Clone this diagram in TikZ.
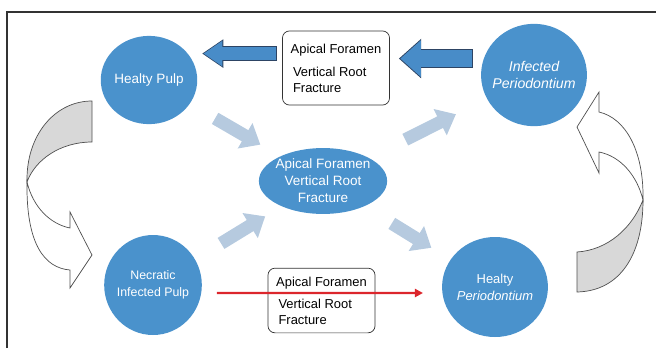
\documentclass[tikz,border=0pt]{standalone}
\usepackage{fontspec}
\setmainfont{Liberation Sans}
\usetikzlibrary{shapes.geometric,arrows.meta,calc}

\definecolor{nodeblue}{RGB}{74,146,204}
\definecolor{arrowblue}{RGB}{72,140,200}
\definecolor{arrowedge}{RGB}{45,68,100}
\definecolor{paleblue}{RGB}{182,202,223}
\definecolor{curvegray}{RGB}{216,216,216}
\definecolor{curveedge}{RGB}{80,80,80}
\definecolor{linkred}{RGB}{220,38,44}

\begin{document}
\begin{tikzpicture}[
    x=0.85pt, y=-0.85pt,
    stage/.style={ellipse, fill=nodeblue, text=white, inner xsep=-8pt, inner ysep=-3pt, align=center},
    notebox/.style={rectangle, rounded corners=6pt, draw=black!80, line width=0.6pt, fill=white,
        inner sep=0pt, align=left, minimum width=91pt, font=\fontsize{11}{13.6}\selectfont},
    palearrow/.style={draw=paleblue, line width=11pt, -{Triangle[width=24pt,length=15pt]}},
    linkarrow/.style={draw=linkred, line width=2pt, -{Triangle[width=7pt,length=7pt]}},
    bendarrow/.style={draw=curveedge, line width=0.6pt}
]
    \useasboundingbox (0,0) rectangle (656,348);
    \draw[black!80, line width=0.9pt] (7,348) -- (7,12) -- (656,12);

    % stages of the cycle
    \node[stage, minimum width=82pt, minimum height=75pt, font=\fontsize{11.5}{14.5}\selectfont] (hpulp) at (149,80) {Healty Pulp};
    \node[stage, minimum width=90pt, minimum height=87pt, font=\fontsize{12}{14.5}\selectfont\itshape] (iperio) at (534,75) {Infected\\Periodontium};
    \node[stage, minimum width=83pt, minimum height=85pt, font=\fontsize{10.5}{14.5}\selectfont] (necpulp) at (153,285) {Necratic\\Infected Pulp};
    \node[stage, minimum width=90pt, minimum height=85pt, font=\fontsize{11}{14.5}\selectfont] (hperio) at (495,287) {Healty\\\textit{Periodontium}};
    \node[stage, minimum width=109pt, minimum height=56pt, font=\fontsize{11.5}{14.5}\selectfont] (route) at (323,181) {Apical Foramen\\Vertical Root\\Fracture};

    % pathway notes
    \node[notebox, minimum height=63pt] (topnote) at (336,68) {Apical Foramen\\[6pt]\hspace{2pt}Vertical Root\\\hspace{2pt}Fracture};
    \node[notebox, minimum height=55pt] (lownote) at (321.5,300.5) {Apical Foramen\\[5pt]\hspace{2pt}Vertical Root\\\hspace{2pt}Fracture};

    % pale arrows through the centre
    \draw[palearrow] ($(hpulp)!0.38!(route)$) -- ($(hpulp)!0.64!(route)$);
    \draw[palearrow] ($(route)!0.39!(iperio)$) -- ($(route)!0.63!(iperio)$);
    \draw[palearrow] ($(necpulp)!0.40!(route)$) -- ($(necpulp)!0.66!(route)$);
    \draw[palearrow] ($(route)!0.40!(hperio)$) -- ($(route)!0.63!(hperio)$);

    % blue block arrows on top
    \draw[arrowedge, line width=13pt, -{Triangle[width=23pt,length=18pt]}]
        ($(topnote.north west)+(-5,23)$) -- ++(-75,0);
    \draw[arrowblue, line width=11.6pt, shorten <=0.7pt, shorten >=1.2pt, -{Triangle[width=20.6pt,length=16pt]}]
        ($(topnote.north west)+(-5,23)$) -- ++(-75,0);
    \draw[arrowedge, line width=16pt, -{Triangle[width=32.5pt,length=19pt]}]
        ($(topnote.north east)+(83,28)$) -- ++(-74,0);
    \draw[arrowblue, line width=14.6pt, shorten <=0.7pt, shorten >=1.2pt, -{Triangle[width=30pt,length=17.5pt]}]
        ($(topnote.north east)+(83,28)$) -- ++(-74,0);

    % red arrow across the lower note
    \draw[linkarrow, shorten <=12.5pt, shorten >=16pt] ([yshift=-6.8pt]necpulp.east) -- ([yshift=-5.1pt]hperio.west);

    % curved arrow on the left
    \filldraw[bendarrow, fill=curvegray] (92,101) .. controls (55,101) and (26,135) .. (27,182)
        .. controls (35,160) and (60,142) .. (92,142) -- cycle;
    \filldraw[bendarrow, fill=white] (27,182) .. controls (26,245) and (45,268) .. (70,270)
        -- (70,288) -- (92,255) -- (70,212) -- (70,228) .. controls (50,224) and (33,207) .. (27,182) -- cycle;

    % curved arrow on the right
    \filldraw[bendarrow, fill=curvegray] (577,292) .. controls (620,291) and (643,255) .. (643,200)
        .. controls (632,228) and (608,250) .. (577,252) -- cycle;
    \filldraw[bendarrow, fill=white] (643,200) .. controls (644,150) and (625,118) .. (599,112)
        -- (599,92) -- (577,127) -- (599,173) -- (599,152) .. controls (620,156) and (637,175) .. (643,200) -- cycle;
\end{tikzpicture}
\end{document}
